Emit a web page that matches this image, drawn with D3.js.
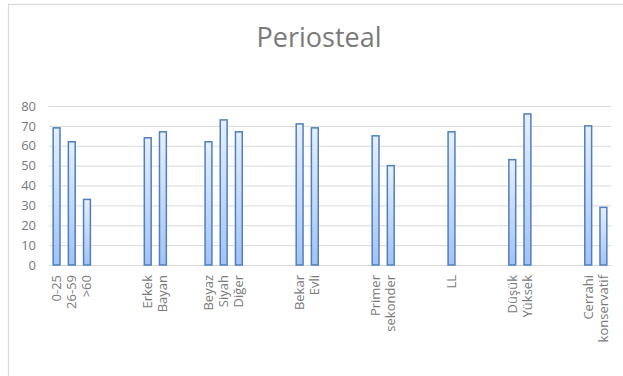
<!DOCTYPE html>
<html>
<head>
<meta charset="utf-8">
<script src="https://cdn.jsdelivr.net/npm/d3@7"></script>
<style>
  html, body { margin: 0; padding: 0; background: #fff; }
  svg { display: block; }
</style>
</head>
<body>
<svg id="chart" width="623" height="376"></svg>
<script>
// Category slots along the x axis; empty strings are spacer slots between groups.
const categories = [
  "0-25", "26-59", ">60", "", "", "",
  "Erkek", "Bayan", "", "",
  "Beyaz", "Siyah", "Diğer", "", "", "",
  "Bekar", "Evli", "", "", "",
  "Primer", "sekonder", "", "", "",
  "LL", "", "", "",
  "Düşük", "Yüksek", "", "", "",
  "Cerrahi", "konservatif"
];
// Periosteal values per slot (null = no bar).
const values = [
  69, 62, 33, null, null, null,
  64, 67, null, null,
  62, 73, 67, null, null, null,
  71, 69, null, null, null,
  65, 50, null, null, null,
  67, null, null, null,
  53, 76, null, null, null,
  70, 29
];
const yTicks = [0, 10, 20, 30, 40, 50, 60, 70, 80];
const title = "Periosteal";

const svg = d3.select("#chart");
const font = "Open Sans, Noto Sans, sans-serif";

// Chart frame
svg.append("rect")
  .attr("x", 8.5).attr("y", 4.5)
  .attr("width", 700).attr("height", 500)
  .attr("fill", "#fff")
  .attr("stroke", "#d9d9d9").attr("stroke-width", 1.2);

const plot = { left: 49, right: 611, top: 106, bottom: 265 };

const x = d3.scaleBand()
  .domain(d3.range(categories.length))
  .range([plot.left, plot.right])
  .paddingInner(0.45).paddingOuter(0.225);

const y = d3.scaleLinear().domain([0, 80]).range([plot.bottom, plot.top]);

// Gradient fill for bars
const defs = svg.append("defs");
const grad = defs.append("linearGradient")
  .attr("id", "barFill").attr("x1", 0).attr("y1", 0).attr("x2", 0).attr("y2", 1);
grad.append("stop").attr("offset", "0%").attr("stop-color", "#e6effc");
grad.append("stop").attr("offset", "100%").attr("stop-color", "#a3c3f3");

// Horizontal gridlines and y tick labels
const yAxis = d3.axisLeft(y).tickValues(yTicks).tickSize(-(plot.right - plot.left)).tickPadding(13);
const gy = svg.append("g")
  .attr("transform", `translate(${plot.left},0)`)
  .call(yAxis);
gy.select(".domain").remove();
gy.selectAll(".tick line").attr("stroke", "#d9d9d9").attr("stroke-width", 1);
gy.selectAll(".tick text")
  .attr("fill", "#7a7a7a")
  .style("font-family", font)
  .style("font-size", "13px");

// Bars
svg.append("g").selectAll("rect")
  .data(values.map((v, i) => ({ v, i })).filter(d => d.v !== null))
  .join("rect")
  .attr("x", d => x(d.i) + 0.75)
  .attr("y", d => y(d.v))
  .attr("width", x.bandwidth() - 1.5)
  .attr("height", d => y(0) - y(d.v))
  .attr("fill", "url(#barFill)")
  .attr("stroke", "#4f7fc0")
  .attr("stroke-width", 1.5);

// Rotated category labels
svg.append("g").selectAll("text")
  .data(categories.map((c, i) => ({ c, i })).filter(d => d.c !== ""))
  .join("text")
  .attr("transform", d => `translate(${x(d.i) + x.bandwidth() / 2 + 4.5},275) rotate(-90)`)
  .attr("text-anchor", "end")
  .attr("fill", "#7a7a7a")
  .style("font-family", font)
  .style("font-size", "13px")
  .text(d => d.c);

// Title
svg.append("text")
  .attr("x", 319).attr("y", 47)
  .attr("text-anchor", "middle")
  .attr("fill", "#7a7a7a")
  .style("font-family", font)
  .style("font-size", "27px")
  .text(title);
</script>
</body>
</html>
